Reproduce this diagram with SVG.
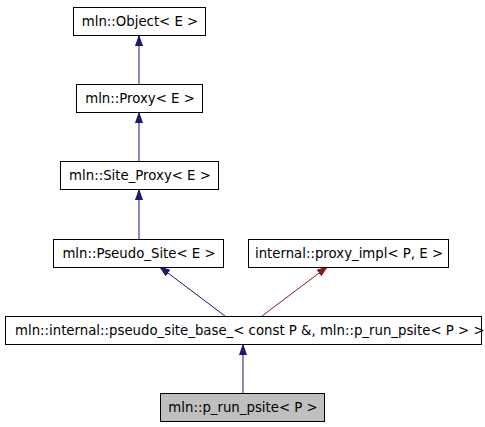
<svg xmlns="http://www.w3.org/2000/svg" width="485" height="427" viewBox="0 0 485 427">
<style>
.box{fill:#ffffff;stroke:#000000;stroke-width:1}
.cur{fill:#bfbfbf;stroke:#000000;stroke-width:1}
.lbl{font-family:"DejaVu Sans",sans-serif;font-size:13.3px;fill:#000000;text-anchor:middle}
.eb{stroke:#191970;stroke-width:1;fill:none}
.er{stroke:#8b1a1a;stroke-width:1;fill:none}
</style>
<defs>
<marker id="ab" markerWidth="10" markerHeight="8" refX="10" refY="4" orient="auto" markerUnits="userSpaceOnUse">
<polygon points="0,0.5 10,4 0,7.5" fill="#191970" stroke="#191970"/>
</marker>
<marker id="ar" markerWidth="10" markerHeight="8" refX="10" refY="4" orient="auto" markerUnits="userSpaceOnUse">
<polygon points="0,0.5 10,4 0,7.5" fill="#8b1a1a" stroke="#8b1a1a"/>
</marker>
</defs>
<rect width="485" height="427" fill="#ffffff"/>
<g id="connectors">
<line class="eb" x1="139" y1="84" x2="139" y2="36" marker-end="url(#ab)"/>
<line class="eb" x1="139" y1="161" x2="139" y2="113" marker-end="url(#ab)"/>
<line class="eb" x1="139" y1="239" x2="139" y2="190" marker-end="url(#ab)"/>
<line class="eb" x1="225" y1="316" x2="160" y2="267" marker-end="url(#ab)"/>
<line class="er" x1="262" y1="316" x2="327" y2="267" marker-end="url(#ar)"/>
<line class="eb" x1="243" y1="393" x2="243" y2="345" marker-end="url(#ab)"/>
</g>
<g id="node-object">
<rect class="box" x="73.5" y="7.5" width="132" height="28"/>
<text class="lbl" x="140" y="26">mln::Object&lt; E &gt;</text>
</g>
<g id="node-proxy">
<rect class="box" x="76.5" y="84.5" width="126" height="28"/>
<text class="lbl" x="140" y="103">mln::Proxy&lt; E &gt;</text>
</g>
<g id="node-site-proxy">
<rect class="box" x="60.5" y="161.5" width="158" height="28"/>
<text class="lbl" x="140" y="180">mln::Site_Proxy&lt; E &gt;</text>
</g>
<g id="node-pseudo-site">
<rect class="box" x="53.5" y="239.5" width="170" height="28"/>
<text class="lbl" x="139" y="258">mln::Pseudo_Site&lt; E &gt;</text>
</g>
<g id="node-proxy-impl">
<rect class="box" x="248.5" y="239.5" width="200" height="28"/>
<text class="lbl" x="349" y="258">internal::proxy_impl&lt; P, E &gt;</text>
</g>
<g id="node-pseudo-site-base">
<rect class="box" x="5.5" y="316.5" width="476" height="28"/>
<text class="lbl" x="15" y="335" style="text-anchor:start">mln::internal::pseudo_site_base_&lt; const P &amp;, mln::p_run_psite&lt; P &gt; &gt;</text>
</g>
<g id="node-p-run-psite">
<rect class="cur" x="160.5" y="393.5" width="164" height="28"/>
<text class="lbl" x="243" y="412">mln::p_run_psite&lt; P &gt;</text>
</g>
</svg>
